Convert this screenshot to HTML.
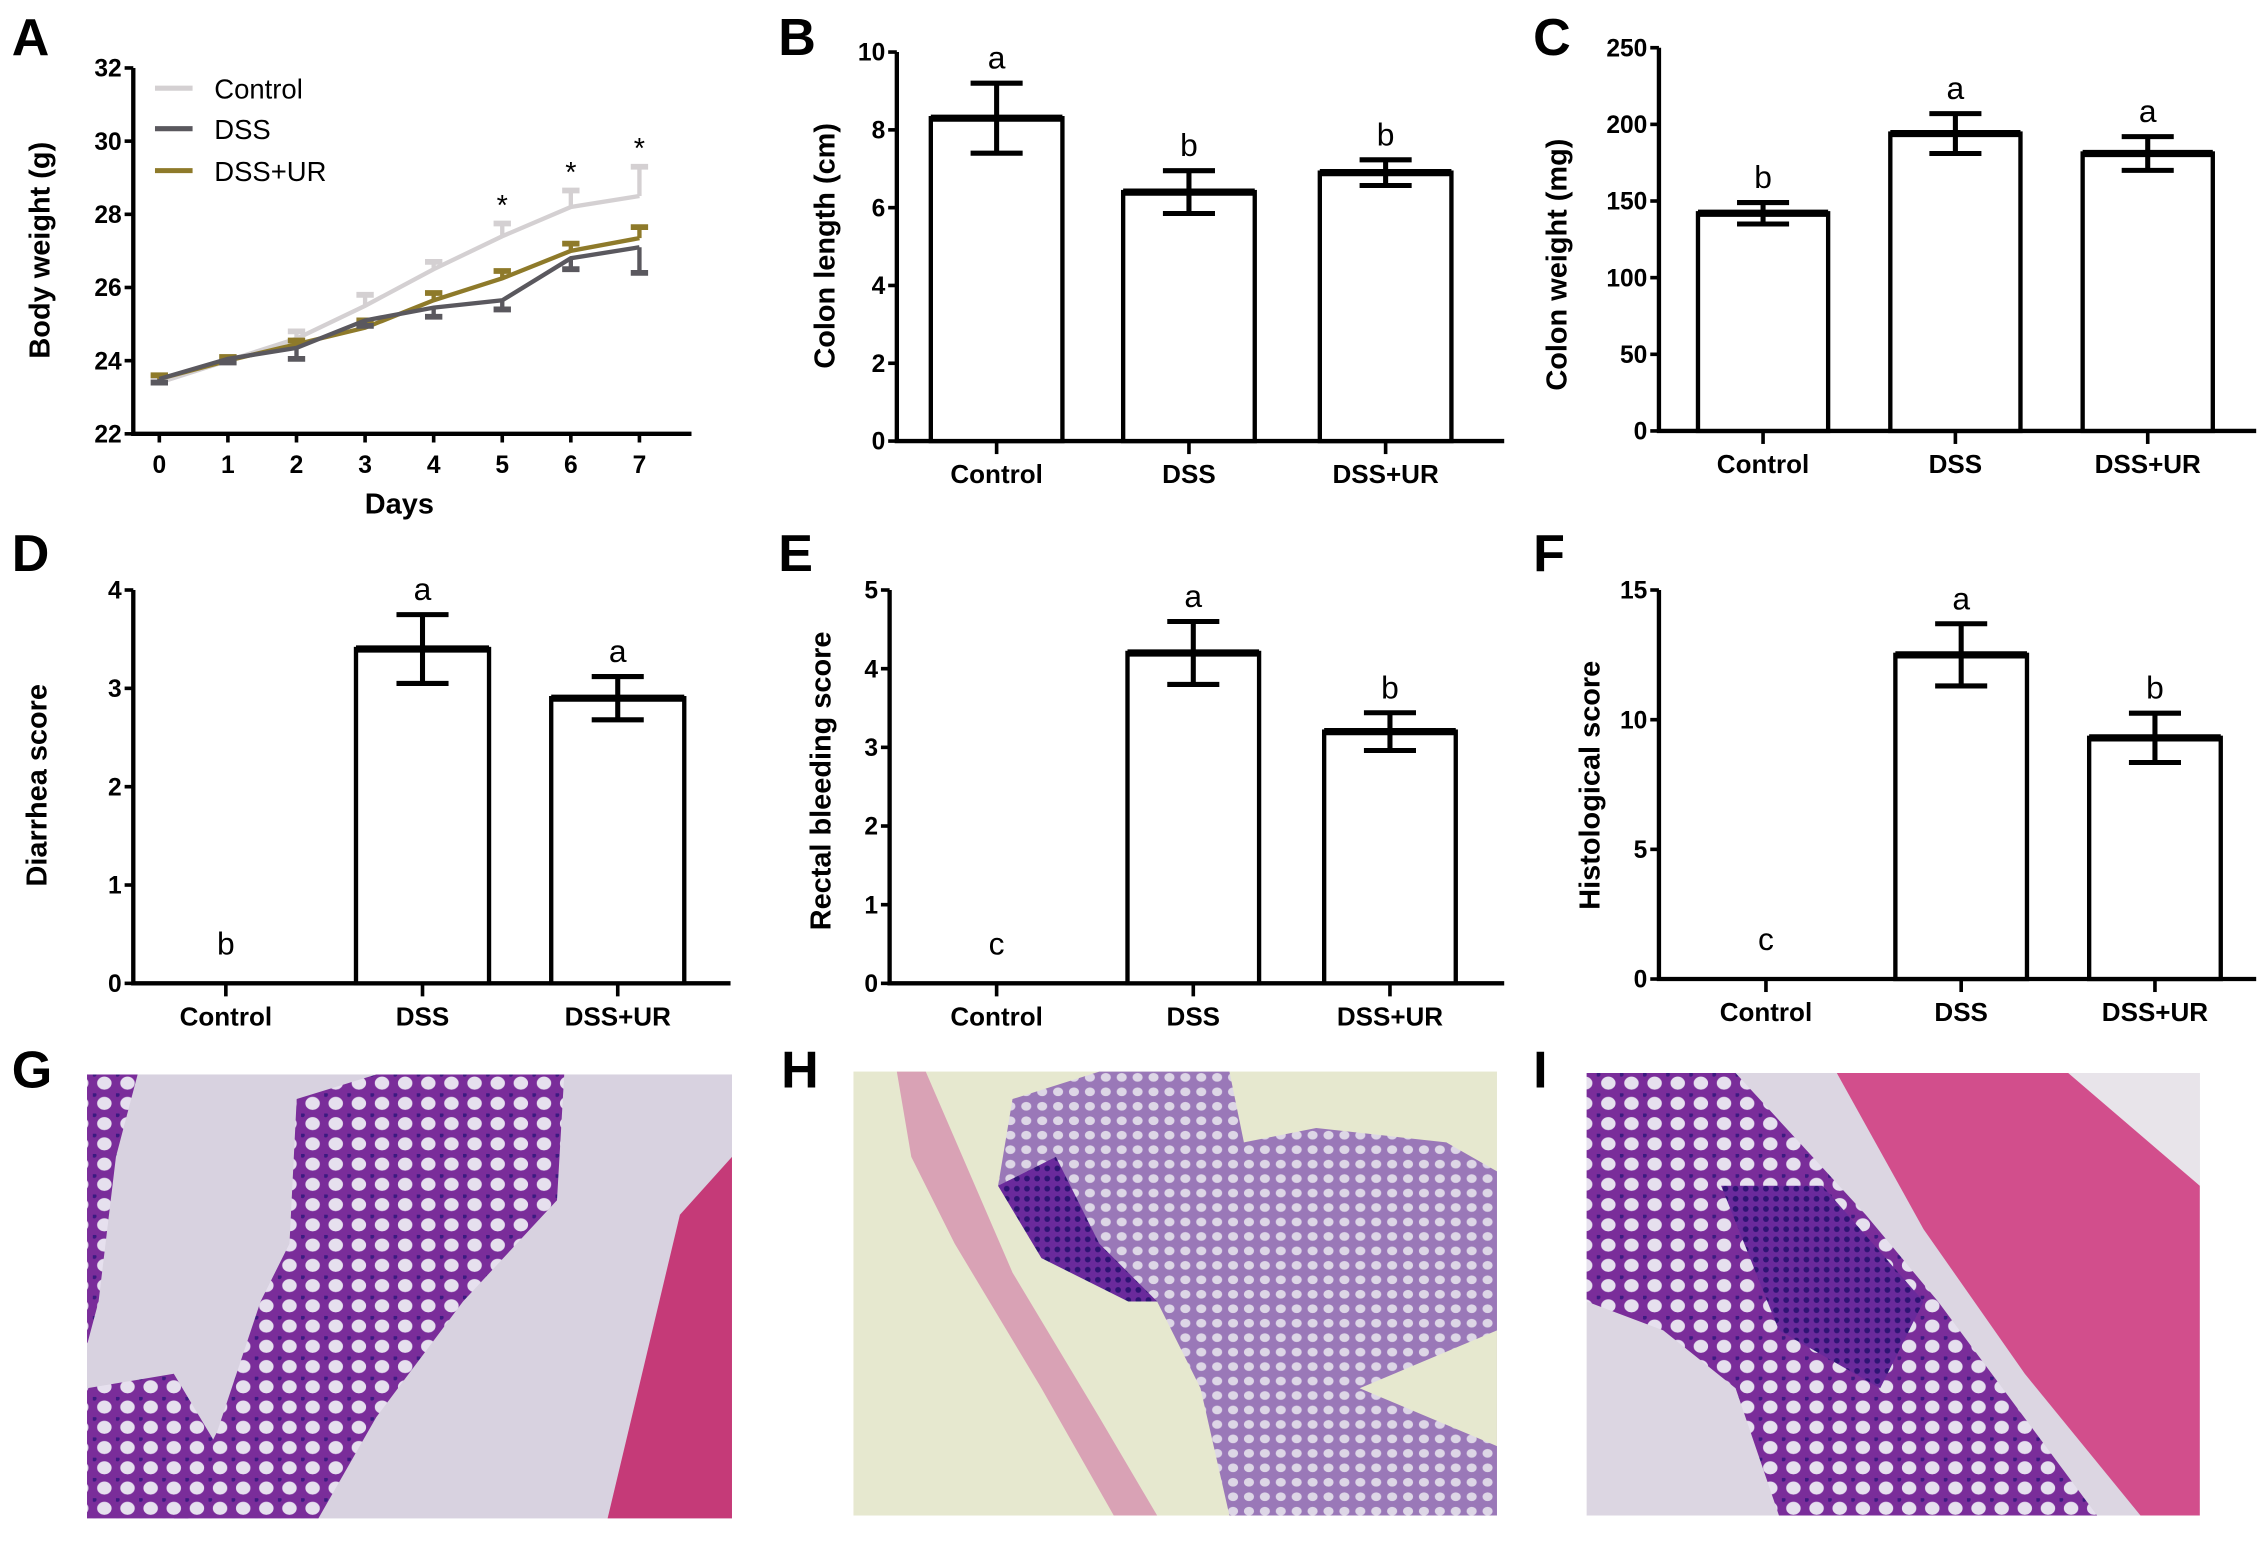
<!DOCTYPE html>
<html><head><meta charset="utf-8"><style>
html,body{margin:0;padding:0;background:#fff}
svg{display:block}
text{font-family:"Liberation Sans",Arial,sans-serif}
.tk{font-size:17px;font-weight:bold}
.tt{font-size:20px;font-weight:bold}
.pl{font-size:36px;font-weight:bold}
.lt{font-size:22px}
</style></head><body>
<svg id="fig" width="2268" height="1543" viewBox="0 0 1568 1067" xmlns="http://www.w3.org/2000/svg">
<defs>
<pattern id="cells" width="16" height="14" patternUnits="userSpaceOnUse">
<rect width="16" height="14" fill="#7a2d9a"/>
<ellipse cx="8" cy="7" rx="5" ry="4.5" fill="#e6e0ee"/>
<circle cx="1" cy="1" r="1.6" fill="#3b1a80"/>
</pattern>
<pattern id="cellsS" width="11" height="10" patternUnits="userSpaceOnUse">
<rect width="11" height="10" fill="#9a78b8"/>
<ellipse cx="5.5" cy="5" rx="3.5" ry="3" fill="#ddd6e6"/>
</pattern>
<pattern id="dense" width="7" height="7" patternUnits="userSpaceOnUse">
<rect width="7" height="7" fill="#6a2a9c"/>
<circle cx="3" cy="3" r="2" fill="#2e1473"/>
</pattern>
</defs>
<g id="root"></g>

<g>
<rect x="60" y="743" width="446" height="307" fill="#d8d2e0"/>
<polygon points="60,743 95,743 80,800 68,900 60,930" fill="url(#cells)"/>
<polygon points="205,760 260,743 390,743 385,830 320,900 260,980 220,1050 120,1050 150,990 180,900 200,860" fill="url(#cells)"/>
<polygon points="60,960 120,950 150,1000 130,1050 60,1050" fill="url(#cells)"/>
<polygon points="470,840 506,800 506,1050 420,1050" fill="#c53a78"/>
</g>
<text x="8" y="752" class="pl">G</text>
<g>
<rect x="590" y="741" width="445" height="307" fill="#e6e8cf"/>
<polygon points="620,741 640,741 700,880 760,980 800,1048 770,1048 720,960 660,860 630,800" fill="#d9a2b5"/>
<polygon points="700,760 760,741 850,741 860,790 910,780 1000,790 1035,810 1035,1048 850,1048 830,960 800,900 730,860 690,820" fill="url(#cellsS)"/>
<polygon points="690,820 730,800 760,860 800,900 780,900 720,870" fill="url(#dense)"/>
<polygon points="940,960 1035,920 1035,1000" fill="#e6e8cf"/>
</g>
<text x="540" y="752" class="pl">H</text>
<g>
<rect x="1097" y="742" width="424" height="306" fill="#dcd6e2"/>
<polygon points="1097,742 1200,742 1290,840 1340,900 1450,1048 1230,1048 1200,960 1150,920 1097,900" fill="url(#cells)"/>
<polygon points="1190,820 1260,820 1330,900 1300,960 1230,920" fill="url(#dense)"/>
<polygon points="1270,742 1440,742 1521,820 1521,1048 1480,1048 1400,950 1330,850" fill="#d24e8c"/>
<polygon points="1430,742 1521,742 1521,820" fill="#e8e4ea"/>
</g>
<text x="1060" y="752" class="pl">I</text>
</svg>
<script>
const days = [0,1,2,3,4,5,6,7];
const ctrlW = [23.4,24.0,24.6,25.5,26.5,27.4,28.2,28.5];
const ctrlErr = [0.15,0.1,0.2,0.3,0.2,0.35,0.45,0.8];
const dssW = [23.5,24.05,24.35,25.1,25.45,25.65,26.8,27.1];
const dssErr = [0.1,0.1,0.3,0.15,0.25,0.25,0.3,0.7];
const urW = [23.5,24.0,24.45,24.9,25.65,26.25,27.0,27.35];
const urErr = [0.1,0.1,0.1,0.2,0.2,0.2,0.2,0.3];
const starDays = [5,6,7];
const aTicks = [22,24,26,28,30,32];
const groups = ["Control","DSS","DSS+UR"];
const lenVals = [8.3,6.4,6.9];
const lenErr = [0.9,0.55,0.33];
const lenLetters = ["a","b","b"];
const lenTicks = [0,2,4,6,8,10];
const wtVals = [142,194,181];
const wtErr = [7,13,11];
const wtLetters = ["b","a","a"];
const wtTicks = [0,50,100,150,200,250];
const diaVals = [0,3.4,2.9];
const diaErr = [0,0.35,0.22];
const diaLetters = ["b","a","a"];
const diaTicks = [0,1,2,3,4];
const recVals = [0,4.2,3.2];
const recErr = [0,0.4,0.24];
const recLetters = ["c","a","b"];
const recTicks = [0,1,2,3,4,5];
const hisVals = [0,12.5,9.3];
const hisErr = [0,1.2,0.95];
const hisLetters = ["c","a","b"];
const hisTicks = [0,5,10,15];

const NS="http://www.w3.org/2000/svg";
const root=document.getElementById('root');
function mk(tag,attrs,parent,txt){const e=document.createElementNS(NS,tag);for(const k in attrs)e.setAttribute(k,attrs[k]);if(txt!==undefined)e.textContent=txt;(parent||root).appendChild(e);return e;}

(function(){
  const g=mk('g',{});
  
  
  const x0=92,yTop=47,yBot=300,xd0=110,xd7=442;
  const ys=v=>yBot-(v-22)/(32-22)*(yBot-yTop);
  const xs=d=>xd0+d*(xd7-xd0)/7;
  const ax=mk('path',{d:`M${x0},${yTop} V${yBot} H478`,stroke:'#000','stroke-width':3,fill:'none'},g);
  
  
  aTicks.forEach(t=>{
    mk('line',{x1:x0-6,x2:x0,y1:ys(t),y2:ys(t),stroke:'#000','stroke-width':2.5},g);
    const l=mk('text',{x:x0-8,y:ys(t)+6,'text-anchor':'end',class:'tk'},g,String(t));
    
    
  });
  days.forEach(d=>{
    mk('line',{x1:xs(d),x2:xs(d),y1:yBot,y2:yBot+6,stroke:'#000','stroke-width':2.5},g);
    const l=mk('text',{x:xs(d),y:yBot+27,'text-anchor':'middle',class:'tk'},g,String(d));
    
    
  });
  const series=[[ctrlW,ctrlErr,'#d4d0d2',1,'series-control'],[urW,urErr,'#8e7a2a',1,'series-dss-ur'],[dssW,dssErr,'#5a585e',-1,'series-dss']];
  series.forEach(([v,e,c,dir,name])=>{
    const s=mk('g',{},g);
    
    
    mk('polyline',{points:days.map(d=>xs(d)+','+ys(v[d])).join(' '),fill:'none',stroke:c,'stroke-width':3},s);
    days.forEach(d=>{
      const y1=ys(v[d]),y2=ys(v[d]+dir*e[d]);
      mk('line',{x1:xs(d),x2:xs(d),y1:y1,y2:y2,stroke:c,'stroke-width':3},s);
      mk('line',{x1:xs(d)-6,x2:xs(d)+6,y1:y2,y2:y2,stroke:c,'stroke-width':4},s);
    });
  });
  starDays.forEach(d=>{
    const t=mk('text',{x:xs(d),y:ys(ctrlW[d]+ctrlErr[d])-6,'text-anchor':'middle',style:'font-size:20px'},g,'*');
    
    
  });
  const legs=[['Control','#d4d0d2',61],['DSS','#5a585e',89],['DSS+UR','#8e7a2a',118]];
  legs.forEach(([n,c,y])=>{
    const le=mk('g',{},g);
    
    
    mk('line',{x1:107,x2:133,y1:y,y2:y,stroke:c,'stroke-width':3.5},le);
    mk('text',{x:148,y:y+7,style:'font-size:19px'},le,n);
  });
  const yt=mk('text',{x:0,y:0,class:'tt',transform:'translate(34,173) rotate(-90)','text-anchor':'middle'},g,'Body weight (g)');
  
  
  const xt=mk('text',{x:276,y:355,class:'tt','text-anchor':'middle'},g,'Days');
  
  
  const pl=mk('text',{x:8,y:38,class:'pl'},g,'A');
  
  
})();

function barPanel(o){
  const g=mk('g',{});
  
  
  const ys=v=>o.yBot-v/o.max*(o.yBot-o.yTop);
  const ax=mk('path',{d:`M${o.x0},${o.yTop} V${o.yBot} H${o.xEnd}`,stroke:'#000','stroke-width':3,fill:'none'},g);
  
  
  o.ticks.forEach(t=>{
    mk('line',{x1:o.x0-6,x2:o.x0,y1:ys(t),y2:ys(t),stroke:'#000','stroke-width':2.5},g);
    const l=mk('text',{x:o.x0-8,y:ys(t)+6,'text-anchor':'end',class:'tk'},g,String(t));
    
    
  });
  const bw=o.bw;
  groups.forEach((gr,i)=>{
    const cx=o.cx[i];
    mk('line',{x1:cx,x2:cx,y1:o.yBot,y2:o.yBot+9,stroke:'#000','stroke-width':2.5},g);
    const xl=mk('text',{x:cx,y:o.yBot+29,'text-anchor':'middle',class:'tk',style:'font-size:18px'},g,gr);
    
    
    const v=o.vals[i],e=o.err[i];
    if(v>0){
      const b=mk('rect',{x:cx-bw/2,y:ys(v),width:bw,height:o.yBot-ys(v),fill:'#fff',stroke:'#000','stroke-width':3},g);
      
      
      mk('line',{x1:cx-bw/2,x2:cx+bw/2,y1:ys(v),y2:ys(v),stroke:'#000','stroke-width':5},g);
      const eb=mk('path',{d:`M${cx},${ys(v+e)} V${ys(v-e)} M${cx-18},${ys(v+e)} H${cx+18} M${cx-18},${ys(v-e)} H${cx+18}`,stroke:'#000','stroke-width':3.5,fill:'none'},g);
      
      
    }
    const ly=v>0?ys(v+e)-10:o.yBot-20;
    const lt=mk('text',{x:cx,y:ly,'text-anchor':'middle',class:'lt'},g,o.letters[i]);
    
    
  });
  const yt=mk('text',{x:0,y:0,class:'tt',transform:`translate(${o.tx},${o.ty}) rotate(-90)`,'text-anchor':'middle'},g,o.title);
  
  
  const pl=mk('text',{x:o.px,y:o.py,class:'pl'},g,o.label);
  
  
}
barPanel({name:'panel-b-colon-length',x0:620,xEnd:1040,yTop:36,yBot:305,max:10,ticks:lenTicks,cx:[689,822,958],bw:91,vals:lenVals,err:lenErr,letters:lenLetters,title:'Colon length (cm)',tx:577,ty:170,label:'B',px:538,py:38});
barPanel({name:'panel-c-colon-weight',x0:1147,xEnd:1560,yTop:33,yBot:298,max:250,ticks:wtTicks,cx:[1219,1352,1485],bw:90,vals:wtVals,err:wtErr,letters:wtLetters,title:'Colon weight (mg)',tx:1083,ty:183,label:'C',px:1060,py:38});
barPanel({name:'panel-d-diarrhea-score',x0:92,xEnd:505,yTop:408,yBot:680,max:4,ticks:diaTicks,cx:[156,292,427],bw:92,vals:diaVals,err:diaErr,letters:diaLetters,title:'Diarrhea score',tx:32,ty:543,label:'D',px:8,py:395});
barPanel({name:'panel-e-rectal-bleeding',x0:615,xEnd:1040,yTop:408,yBot:680,max:5,ticks:recTicks,cx:[689,825,961],bw:91,vals:recVals,err:recErr,letters:recLetters,title:'Rectal bleeding score',tx:574,ty:540,label:'E',px:538,py:395});
barPanel({name:'panel-f-histological-score',x0:1147,xEnd:1560,yTop:408,yBot:677,max:15,ticks:hisTicks,cx:[1221,1356,1490],bw:91,vals:hisVals,err:hisErr,letters:hisLetters,title:'Histological score',tx:1106,ty:543,label:'F',px:1060,py:395});
</script>
</body></html>
